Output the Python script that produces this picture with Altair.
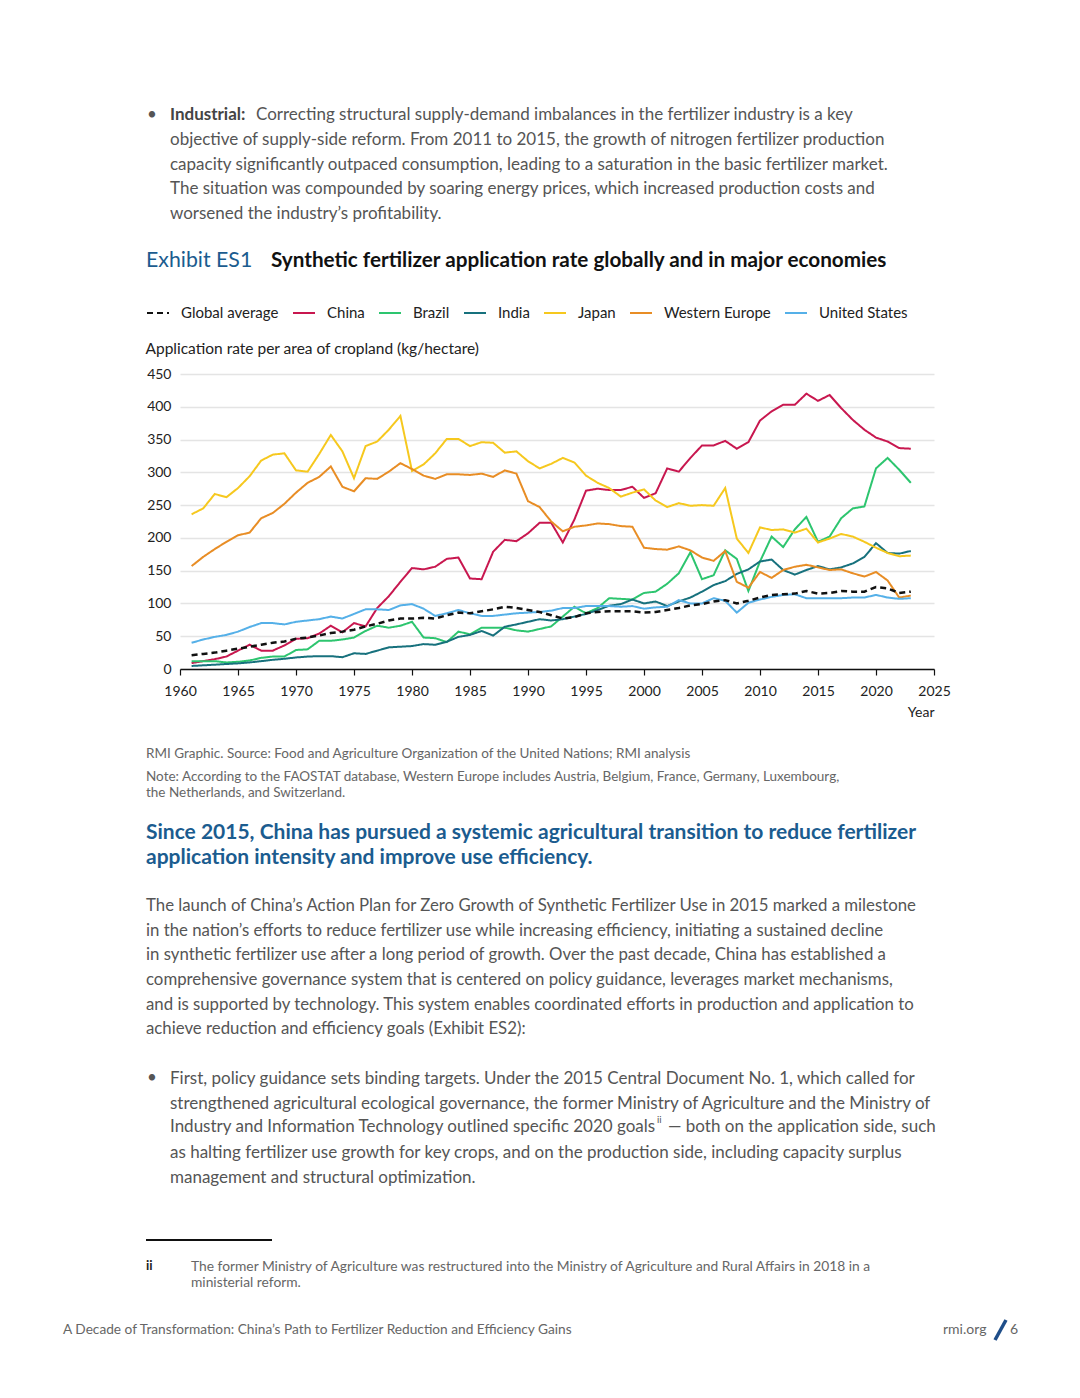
import altair as alt
import pandas as pd

# ---------------- data ----------------
years = list(range(1961, 2024))

china = [9, 12, 15, 19, 28, 37, 28, 28, 36, 46, 47, 54, 66, 56, 70, 65, 93, 111, 133, 154,
         152, 156, 168, 170, 138, 137, 179, 197, 195, 207, 223, 223, 193, 228, 272, 275, 273, 273, 278, 261,
         268, 306, 301, 322, 341, 341, 348, 336, 346, 379, 393, 403, 403, 420, 409, 418, 398, 380, 365, 353,
         347, 337, 336]
brazil = [12, 12, 12, 10, 11, 13, 17, 19, 19, 29, 30, 43, 43, 45, 48, 58, 66, 63, 66, 72,
          48, 47, 41, 57, 53, 63, 63, 63, 59, 57, 61, 65, 80, 95, 85, 93, 108, 107, 106, 116,
          118, 130, 146, 178, 137, 143, 181, 168, 119, 164, 202, 186, 213, 232, 194, 202, 230, 245, 248, 306,
          322, 304, 284]
india = [4.6, 5.6, 6.6, 7.6, 8.6, 10, 12, 14, 15.6, 17.6, 19, 19.6, 19.6, 18, 24, 23, 28, 33, 34, 35,
         38, 37, 41.6, 49, 52, 58, 51, 64.5, 68, 72, 76, 74, 76, 80, 84, 90, 96.5, 99, 106, 100,
         103, 96, 103, 109, 118, 128, 134, 145, 152, 164, 167, 151, 144, 151, 157, 152, 155, 161, 171, 192,
         177, 176, 180]
japan = [236, 245, 267, 262, 276, 294, 318, 327, 329, 303, 301, 328, 357, 332, 291, 340, 347, 365, 386, 302,
         312, 329, 351, 351, 340, 346, 345, 330, 332, 317, 306, 313, 322, 315, 295, 284, 276, 263, 269, 274,
         257, 247, 253, 249, 250, 249, 276, 199, 177, 216, 212, 213, 208, 214, 193, 199, 206, 202, 194, 185,
         177, 172, 173]
western_europe = [157, 171, 183, 194, 204, 208, 230, 238, 252, 269, 284, 293, 309, 278, 271, 291, 290, 301, 314, 305,
                  295, 290, 297, 297, 296, 298, 293, 303, 298, 256, 247, 225, 210, 217, 219, 222, 221, 218, 217, 185,
                  183, 182, 187, 181, 170, 165, 180, 133, 124, 148, 139, 151, 156, 159, 155, 151, 152, 146, 141, 148,
                  135, 109, 112]
united_states = [40, 45, 49, 52, 57, 64, 70, 70, 68, 72, 74, 76, 80, 77, 84, 91, 91, 90, 97, 99,
                 92, 81, 85, 90, 85, 81, 81, 83, 85, 86, 87, 89, 93, 93, 96, 96, 96, 95, 96, 92,
                 94, 95, 105, 100, 100, 108, 104, 86, 101, 106, 110, 113, 114, 108, 108, 108, 108, 109, 109, 113,
                 109, 107, 108]
global_average = [21, 23, 25, 28, 31, 34, 37, 40, 42, 46, 48, 51, 55, 57, 60, 65, 69, 74, 77, 77,
                  78, 77, 82, 86, 85, 88, 91, 95, 93, 90, 87, 82, 77, 79, 85, 87, 88, 88, 88, 86,
                  87, 90, 93, 97, 99, 103, 105, 100, 104, 109, 113, 114, 115, 119, 115, 116, 119, 118, 118, 125,
                  123, 116, 118]

series_names = ["Global average", "China", "Brazil", "India", "Japan", "Western Europe", "United States"]
series_colors = ["#111111", "#C8174F", "#2DC56F", "#17717D", "#F6C81E", "#E88D25", "#55B0E8"]
series_dashes = [[6, 4], [1, 0], [1, 0], [1, 0], [1, 0], [1, 0], [1, 0]]

y_ticks = [0, 50, 100, 150, 200, 250, 300, 350, 400, 450]
x_ticks = [1960, 1965, 1970, 1975, 1980, 1985, 1990, 1995, 2000, 2005, 2010, 2015, 2020, 2025]

values_by_series = {
    "China": china, "Brazil": brazil, "India": india, "Japan": japan,
    "Western Europe": western_europe, "United States": united_states,
}
rows = []
for name, vals in values_by_series.items():
    for yr, v in zip(years, vals):
        rows.append({"year": yr, "value": v, "series": name})
df_countries = pd.DataFrame(rows)
df_global = pd.DataFrame({"year": years, "value": global_average, "series": "Global average"})
one = pd.DataFrame({"k": [0]})

# ---------------- layout ----------------
FONT = "Lato"
OX, OY = 180, 374          # page position of plot origin
W, H = 754, 295
BODY = "#555555"
BLUE = "#1B5C8F"
FS = 17                    # body text size

leg = alt.Legend(orient="none", legendX=146 - OX, legendY=301 - OY, direction="horizontal",
                 columns=7, title=None, symbolType="stroke", symbolSize=484, symbolStrokeWidth=2,
                 labelFontSize=15, labelColor="#222222", labelFont=FONT, labelOffset=11,
                 columnPadding=10, padding=0)

color_enc = alt.Color("series:N", scale=alt.Scale(domain=series_names, range=series_colors), legend=leg)
dash_enc = alt.StrokeDash("series:N", scale=alt.Scale(domain=series_names, range=series_dashes), legend=leg)

x_enc = alt.X("year:Q", scale=alt.Scale(domain=[1960, 2025], nice=False, zero=False),
              axis=alt.Axis(values=x_ticks, format="d", grid=False, domainColor="#111111",
                            domainWidth=1.5, tickColor="#111111", tickSize=6, tickWidth=1.2,
                            labelFlush=False, labelOverlap=False,
                            labelPadding=9, labelFontSize=14, labelColor="#222222", labelFont=FONT,
                            title="Year", titleX=W, titleY=43, titleAlign="right",
                            titleBaseline="middle", titleFontSize=14, titleFontWeight="normal",
                            titleColor="#222222", titleFont=FONT))
y_enc = alt.Y("value:Q", scale=alt.Scale(domain=[0, 450], nice=False),
              axis=alt.Axis(values=y_ticks, grid=True, gridColor="#E4E4E4", gridWidth=1.5,
                            domain=False, ticks=False, labelPadding=9, labelFontSize=14,
                            labelColor="#222222", labelFont=FONT,
                            title="Application rate per area of cropland (kg/hectare)",
                            titleAngle=0, titleX=145 - OX, titleY=348 - OY, titleAlign="left",
                            titleBaseline="middle", titleFontSize=15.5, titleFontWeight="normal",
                            titleColor="#222222", titleFont=FONT))

countries = alt.Chart(df_countries).mark_line(strokeWidth=2).encode(
    x=x_enc, y=y_enc, color=color_enc, strokeDash=dash_enc)
glob = alt.Chart(df_global).mark_line(strokeWidth=2.5).encode(
    x=x_enc, y=y_enc, color=color_enc, strokeDash=dash_enc)


def txt(text, px, py, size, color=BODY, weight="normal", lh=None, align="left"):
    kw = dict(text=text, font=FONT, fontSize=size, fontWeight=weight, color=color, align=align)
    if isinstance(text, list):
        kw["baseline"] = "top"
        kw["lineHeight"] = lh
        y = py - OY - 0.4 * size
    else:
        kw["baseline"] = "middle"
        y = py - OY
    return alt.Chart(one).mark_text(**kw).encode(x=alt.value(px - OX), y=alt.value(y))


layers = [countries, glob]

# intro bullet paragraph
layers.append(txt("•", 147, 115, FS))
layers.append(txt("Industrial:", 170, 115, FS, color="#444444", weight="bold"))
layers.append(txt("Correcting structural supply-demand imbalances in the fertilizer industry is a key",
                  256, 115, FS))
layers.append(txt([
    "objective of supply-side reform. From 2011 to 2015, the growth of nitrogen fertilizer production",
    "capacity significantly outpaced consumption, leading to a saturation in the basic fertilizer market.",
    "The situation was compounded by soaring energy prices, which increased production costs and",
    "worsened the industry’s profitability.",
], 170, 139, FS, lh=24.6))

# exhibit title
layers.append(txt("Exhibit ES1", 146, 261, 21.3, color=BLUE))
layers.append(txt("Synthetic fertilizer application rate globally and in major economies", 271, 261, 20.7,
                  color="#111111", weight="bold"))

# source / note
layers.append(txt("RMI Graphic. Source: Food and Agriculture Organization of the United Nations; RMI analysis",
                  146, 754, 13.5, color="#666666"))
layers.append(txt([
    "Note: According to the FAOSTAT database, Western Europe includes Austria, Belgium, France, Germany, Luxembourg,",
    "the Netherlands, and Switzerland.",
], 146, 775, 13.5, color="#666666", lh=16))

# section heading
layers.append(txt([
    "Since 2015, China has pursued a systemic agricultural transition to reduce fertilizer",
    "application intensity and improve use efficiency.",
], 146, 830, 21, color=BLUE, weight="bold", lh=25))

# body paragraph
layers.append(txt([
    "The launch of China’s Action Plan for Zero Growth of Synthetic Fertilizer Use in 2015 marked a milestone",
    "in the nation’s efforts to reduce fertilizer use while increasing efficiency, initiating a sustained decline",
    "in synthetic fertilizer use after a long period of growth. Over the past decade, China has established a",
    "comprehensive governance system that is centered on policy guidance, leverages market mechanisms,",
    "and is supported by technology. This system enables coordinated efforts in production and application to",
    "achieve reduction and efficiency goals (Exhibit ES2):",
], 146, 905, 16.8, lh=24.6))

# second bullet
layers.append(txt("•", 147, 1078, FS))
layers.append(txt([
    "First, policy guidance sets binding targets. Under the 2015 Central Document No. 1, which called for",
    "strengthened agricultural ecological governance, the former Ministry of Agriculture and the Ministry of",
], 170, 1078, FS, lh=24.6))
layers.append(txt("Industry and Information Technology outlined specific 2020 goals", 170, 1127, FS))
layers.append(txt("ii", 657, 1120, 9.5))
layers.append(txt("— both on the application side, such", 668, 1127, FS))
layers.append(txt([
    "as halting fertilizer use growth for key crops, and on the production side, including capacity surplus",
    "management and structural optimization.",
], 170, 1152, FS, lh=24.6))

# footnote
layers.append(alt.Chart(one).mark_rule(color="#111111", strokeWidth=2).encode(
    x=alt.value(146 - OX), x2=alt.value(272 - OX), y=alt.value(1240 - OY)))
layers.append(txt("ii", 146, 1266, 13, color="#222222", weight="bold"))
layers.append(txt([
    "The former Ministry of Agriculture was restructured into the Ministry of Agriculture and Rural Affairs in 2018 in a",
    "ministerial reform.",
], 191, 1266, 13.8, color="#666666", lh=16))

# page footer
layers.append(txt("A Decade of Transformation: China’s Path to Fertilizer Reduction and Efficiency Gains",
                  63, 1330, 13.7, color="#666666"))
layers.append(txt("rmi.org", 943, 1330, 14, color="#666666"))
layers.append(alt.Chart(one).mark_rule(color="#1F4E89", strokeWidth=3.5).encode(
    x=alt.value(995 - OX), y=alt.value(1340 - OY), x2=alt.value(1006 - OX), y2=alt.value(1320 - OY)))
layers.append(txt("6", 1010, 1330, 14, color="#666666"))

chart = alt.layer(*layers).properties(
    width=W, height=H,
    autosize=alt.AutoSizeParams(type="none"),
    padding={"left": OX - 8, "top": OY - 8, "right": 1072 - (OX + W), "bottom": 1390 - (OY + H) - 2},
    background="white",
).configure_view(stroke=None)

chart.save("out.html", embed_options={"renderer": "svg", "actions": False})
